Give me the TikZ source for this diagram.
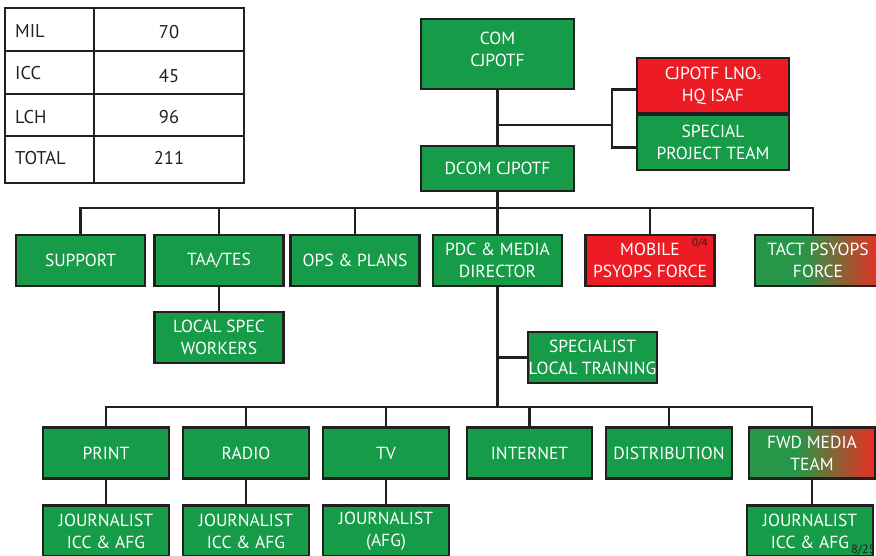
\documentclass[tikz,border=0pt]{standalone}
\usepackage{fontspec}
\setmainfont{PT Sans}
\definecolor{boxgreen}{RGB}{22,155,72}
\definecolor{boxred}{RGB}{237,28,36}
\definecolor{ink}{RGB}{35,31,32}
\definecolor{gradgreen}{RGB}{40,150,72}
\definecolor{gradred}{RGB}{235,45,35}
% green on the left fading into red on the right (inner 25bp..75bp spans the path)
\pgfdeclarehorizontalshading{greentored}{100bp}{color(0bp)=(gradgreen); color(44bp)=(gradgreen); color(75bp)=(gradred); color(100bp)=(gradred)}
\begin{document}
\begin{tikzpicture}[x=1pt,y=-1pt,
  label text/.style={text=white, align=center, font=\fontsize{17.5}{22}\selectfont},
  unit/.style={draw=ink, line width=2.4pt, fill=boxgreen, label text, inner sep=0pt,
    minimum width=129pt, minimum height=51pt},
  alert/.style={unit, fill=boxred},
  mixed/.style={unit, shade, shading=greentored},
  conn/.style={draw=ink, line width=2.4pt},
  grid/.style={draw=ink, line width=1.4pt},
  cell/.style={text=ink, font=\fontsize{18.5}{22}\selectfont, inner sep=0pt},
  tiny/.style={text=ink, inner sep=0pt}]
\useasboundingbox (0,0) rectangle (876,555);
\clip (0,0) rectangle (876,555);

% ---- staff count table ----
\draw[grid] (5,8) rectangle (244,183);
\draw[grid] (94,8) -- (94,183);
\draw[grid] (5,51) -- (244,51);
\draw[grid] (5,94) -- (244,94);
\draw[grid] (5,136) -- (244,136);
\node[cell, anchor=west] (milL) at (15,31) {MIL};
\node[cell] (milV) at (169,32) {70};
\node[cell, anchor=west] (iccL) at (15,73) {ICC};
\node[cell] (iccV) at (169,76) {45};
\node[cell, anchor=west] (lchL) at (15,117) {LCH};
\node[cell] (lchV) at (169,117) {96};
\node[cell, anchor=west] (totL) at (15,158) {TOTAL};
\node[cell] (totV) at (169,158) {211};

% ---- command level ----
\node[unit, minimum width=153pt, minimum height=70pt] (com) at (497.5,54) {};
\node[label text] (comtext) at ([yshift=5pt]com.center) {COM\\CJPOTF};
\node[unit, minimum width=153pt, minimum height=45pt] (dcom) at (497.5,168.5) {DCOM CJPOTF};
\node[alert, minimum width=152pt, minimum height=55pt] (lno) at (713,85.5)
  {CJPOTF LNO{\fontsize{10}{10}\selectfont s}\\HQ ISAF};
\node[unit, minimum width=152pt, minimum height=55pt] (spt) at (713,142.5) {SPECIAL\\PROJECT TEAM};

% ---- staff branches ----
\node[unit] (support) at (80.5,260.5) {SUPPORT};
\node[unit] (taa) at (219,260.5) {TAA/TES};
\node[unit] (ops) at (355,260.5) {OPS \& PLANS};
\node[unit] (pdc) at (497.5,260.5) {PDC \& MEDIA\\DIRECTOR};
\node[alert] (mobile) at (650,260.5) {MOBILE\\PSYOPS FORCE};
\node[mixed, minimum width=126pt] (tact) at (818,260.5) {TACT PSYOPS\\FORCE};
\node[tiny, font=\fontsize{11}{11}\selectfont] (mobcount) at (700,243) {0/4};

\node[unit] (localspec) at (219,337.5) {LOCAL SPEC\\WORKERS};
\node[unit] (specialist) at (592.5,357.5) {SPECIALIST\\LOCAL TRAINING};

% ---- media sections ----
\node[unit, minimum width=126pt] (print) at (106,453) {PRINT};
\node[unit, minimum width=126pt] (radio) at (246,453) {RADIO};
\node[unit, minimum width=126pt] (tv) at (386,453) {TV};
\node[unit, minimum width=125pt] (internet) at (529.5,453) {INTERNET};
\node[unit, minimum width=126pt] (distribution) at (669,453) {DISTRIBUTION};
\node[mixed, minimum width=126pt] (fwd) at (812,453) {FWD MEDIA\\TEAM};

\node[unit, minimum width=126pt] (jprint) at (106,531) {JOURNALIST\\ICC \& AFG};
\node[unit, minimum width=126pt] (jradio) at (246,531) {JOURNALIST\\ICC \& AFG};
\node[unit, minimum width=126pt] (jtv) at (386,531) {JOURNALIST\\(AFG)};
\node[unit, minimum width=126pt] (jfwd) at ([xshift=-2pt]812,531) {JOURNALIST\\ICC \& AFG};
\node[tiny, font=\fontsize{12}{12}\selectfont, anchor=base east] (pagenum) at (875.5,553) {8/25};

% ---- connectors ----
\coordinate (jA) at (497.5,125);
\coordinate (jB) at (612,125);
\coordinate (busA) at (497.5,208);
\coordinate (busB) at (497.5,407);
\coordinate (tactjoin) at ([xshift=-5pt]tact.north);

\draw[conn] (com.south) -- (dcom.north);
\draw[conn] (jA) -- (jB);
\draw[conn] ([yshift=-4pt]lno.west) -| (jB) |- ([yshift=-5pt]spt.west);

\draw[conn] (dcom.south) -- (pdc.north);
\draw[conn] (support.north) |- (tactjoin |- busA) -- (tactjoin);
\foreach \n in {taa,ops,mobile}
  \draw[conn] (\n.north) -- (\n.north |- busA);
\draw[conn] (taa.south) -- (localspec.north);

\draw[conn] (pdc.south) -- (busB);
\draw[conn] (specialist.west) -- (specialist.west -| busB);
\draw[conn] (print.north) |- (fwd.north |- busB) -- (fwd.north);
\foreach \n in {radio,tv,internet,distribution}
  \draw[conn] (\n.north) -- (\n.north |- busB);
\draw[conn] (print.south) -- (jprint.north);
\draw[conn] (radio.south) -- (jradio.north);
\draw[conn] (tv.south) -- (jtv.north);
\draw[conn] (fwd.south) -- (fwd.south |- jfwd.north);
\end{tikzpicture}
\end{document}
